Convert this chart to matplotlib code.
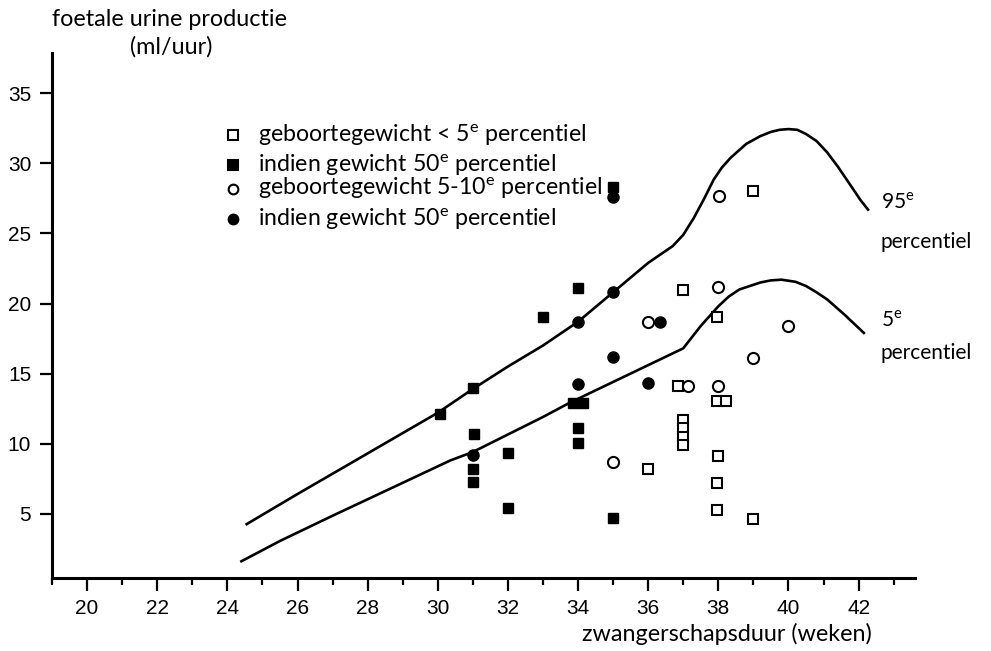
import numpy as np
import matplotlib
matplotlib.use('Agg')
import matplotlib.pyplot as plt
from matplotlib.ticker import MultipleLocator

plt.rcParams['font.family'] = ['Lato', 'DejaVu Sans']
plt.rcParams['mathtext.fontset'] = 'custom'
plt.rcParams['mathtext.rm'] = 'Lato'

# percentile curves
p95_x = [24.55, 26, 28, 30, 31, 32, 33, 34, 35, 36, 36.7, 37.0, 37.3, 37.6, 37.87, 38.1, 38.35, 38.8, 39.2, 39.5, 39.75, 40.0, 40.25, 40.5, 40.8, 41.1, 41.4, 41.7, 42.05, 42.27]
p95_y = [4.25, 6.4, 9.3, 12.2, 13.9, 15.5, 17.0, 18.7, 20.8, 22.9, 24.1, 24.9, 26.1, 27.5, 28.85, 29.7, 30.4, 31.4, 31.95, 32.25, 32.4, 32.45, 32.4, 32.1, 31.6, 30.8, 29.8, 28.7, 27.4, 26.7]
p5_x = [24.4, 25.5, 27, 29, 30.36, 31, 33, 33.75, 35, 36, 37, 37.25, 37.5, 38, 38.3, 38.6, 39.2, 39.5, 39.8, 40.2, 40.5, 40.8, 41.1, 41.6, 42.15]
p5_y = [1.6, 3.05, 4.85, 7.2, 8.8, 9.4, 11.9, 12.9, 14.4, 15.6, 16.8, 17.6, 18.4, 19.8, 20.5, 21.0, 21.5, 21.65, 21.7, 21.55, 21.25, 20.8, 20.3, 19.2, 17.9]

# geboortegewicht < 5e percentiel (open squares)
osq_x = [39.0, 37.0, 37.95, 36.85, 37.95, 38.22, 37.0, 37.0, 37.0, 37.0, 36.0, 37.98, 37.97, 37.95, 38.99]
osq_y = [28.0, 20.95, 19.06, 14.1, 13.05, 13.05, 11.65, 11.1, 10.5, 9.9, 8.2, 9.1, 7.18, 5.27, 4.63]
# indien gewicht 50e percentiel (filled squares)
fsq_x = [30.07, 31.0, 31.04, 31.0, 31.0, 32.0, 32.0, 33.0, 34.0, 33.85, 34.15, 34.0, 34.0, 35.0, 35.0]
fsq_y = [12.1, 13.98, 10.67, 8.2, 7.25, 9.33, 5.39, 19.06, 21.1, 12.9, 12.9, 11.1, 10.04, 4.7, 28.3]
# geboortegewicht 5-10e percentiel (open circles)
oci_x = [38.03, 37.98, 36.0, 40.0, 38.99, 37.13, 37.98, 35.0]
oci_y = [27.65, 21.19, 18.66, 18.4, 16.08, 14.1, 14.1, 8.68]
# indien gewicht 50e percentiel (filled circles)
fci_x = [35.0, 35.0, 34.0, 36.35, 35.0, 34.0, 36.0, 31.0]
fci_y = [27.6, 20.85, 18.66, 18.7, 16.2, 14.27, 14.36, 9.16]

legend_labels = [r'geboortegewicht < 5$^{\rm e}$ percentiel',
                 r'indien gewicht 50$^{\rm e}$ percentiel',
                 r'geboortegewicht 5-10$^{\rm e}$ percentiel',
                 r'indien gewicht 50$^{\rm e}$ percentiel']
legend_y = [32.0, 29.9, 28.2, 26.0]

fig = plt.figure(figsize=(9.91, 6.51), dpi=100)
ax = fig.add_axes([0.0525, 0.112, 0.8705, 0.807])

ax.plot(p95_x, p95_y, color='black', lw=1.9)
ax.plot(p5_x, p5_y, color='black', lw=1.9)

ms = 7
ax.plot(osq_x, osq_y, 's', ms=ms, mfc='white', mec='black', mew=1.5, ls='none')
ax.plot(fsq_x, fsq_y, 's', ms=ms, mfc='black', mec='black', mew=1.0, ls='none')
ax.plot(oci_x, oci_y, 'o', ms=ms + 1, mfc='white', mec='black', mew=1.5, ls='none')
ax.plot(fci_x, fci_y, 'o', ms=ms + 1, mfc='black', mec='black', mew=1.0, ls='none')

# hand drawn legend
styles = [('s', 'white'), ('s', 'black'), ('o', 'white'), ('o', 'black')]
for (m, fc), lab, yy in zip(styles, legend_labels, legend_y):
    ax.plot([24.17], [yy], m, ms=ms, mfc=fc, mec='black', mew=1.5)
    ax.text(24.88, yy, lab, fontsize=16.7, va='center', ha='left')

# curve labels
ax.text(42.63, 27.2, r'95$^{\rm e}$', fontsize=15, va='center', ha='left', clip_on=False)
ax.text(42.63, 24.4, 'percentiel', fontsize=15, va='center', ha='left', clip_on=False)
ax.text(42.63, 18.8, r'5$^{\rm e}$', fontsize=15, va='center', ha='left', clip_on=False)
ax.text(42.63, 16.5, 'percentiel', fontsize=15, va='center', ha='left', clip_on=False)

ax.set_xlim(19.0, 43.6)
ax.set_ylim(0.4, 37.9)
ax.xaxis.set_minor_locator(MultipleLocator(1))
ax.set_xticks(np.arange(20, 43, 2))
ax.set_yticks([5, 10, 15, 20, 25, 30, 35])
ax.spines['top'].set_visible(False)
ax.spines['right'].set_visible(False)
ax.spines['left'].set_linewidth(2.2)
ax.spines['bottom'].set_linewidth(2.2)
ax.tick_params(axis='both', which='major', length=9, width=1.6, labelsize=15, pad=6)
ax.tick_params(axis='x', which='minor', length=5, width=1.6)
for lab in ax.get_xticklabels() + ax.get_yticklabels():
    lab.set_fontfamily(['Liberation Sans'])

fig.text(170 / 991, 1 - 20 / 651, 'foetale urine productie', fontsize=16.8, ha='center', va='center')
fig.text(171 / 991, 1 - 47 / 651, '(ml/uur)', fontsize=16.8, ha='center', va='center')
fig.text(727 / 991, 1 - 634 / 651, 'zwangerschapsduur (weken)', fontsize=16.8, ha='center', va='center')

fig.savefig('out.png', dpi=100)
